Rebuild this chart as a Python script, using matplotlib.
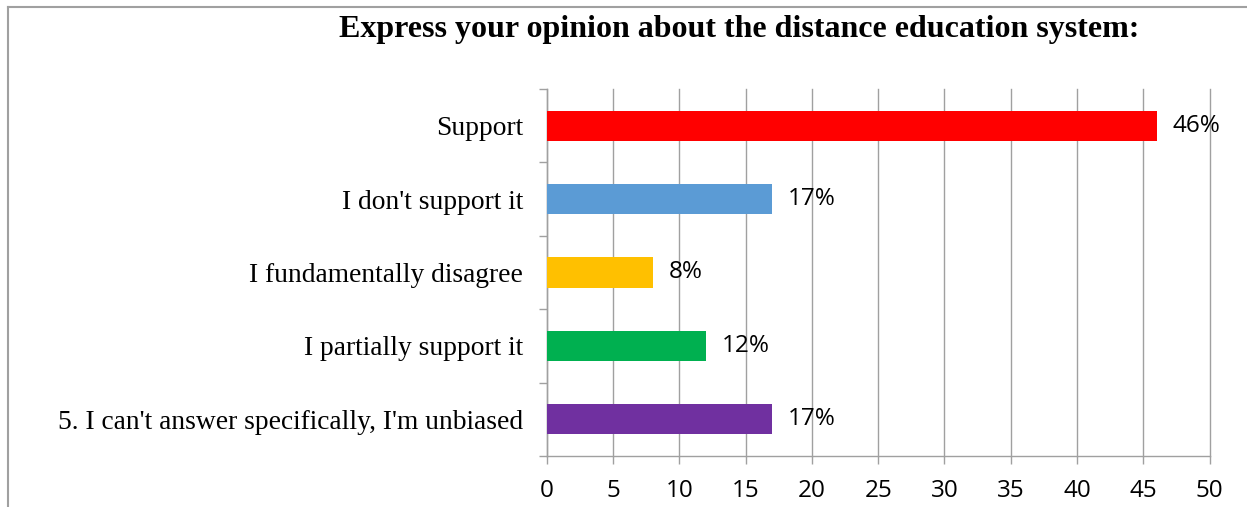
import matplotlib.pyplot as plt
import numpy as np
from matplotlib.lines import Line2D

categories = ["Support", "I don't support it", "I fundamentally disagree",
              "I partially support it", "5. I can't answer specifically, I'm unbiased"]
values = [46, 17, 8, 12, 17]
labels = ["46%", "17%", "8%", "12%", "17%"]
colors = ["#FF0000", "#5B9BD5", "#FFC000", "#00B050", "#7030A0"]
xticks = [0, 5, 10, 15, 20, 25, 30, 35, 40, 45, 50]
title = "Express your opinion about the distance education system:"

grid_col = "#A0A0A0"
serif = "Liberation Serif"
sans = "Open Sans"

fig = plt.figure(figsize=(12.47, 5.07), dpi=100)
ax = fig.add_axes([0.4383, 0.1006, 0.9701 - 0.4383, 0.8245 - 0.1006])

n = len(categories)
ypos = np.arange(n)
ax.barh(ypos, values, height=0.41, color=colors, zorder=3)
ax.set_ylim(n - 0.5, -0.5)
ax.set_xlim(0, 50)

# major ticks at category boundaries, labels on minor ticks at centres
ax.set_yticks(np.arange(n + 1) - 0.5)
ax.set_yticklabels([])
ax.set_yticks(ypos, minor=True)
ax.set_yticklabels(categories, minor=True, fontfamily=serif, fontsize=19.8)
ax.tick_params(axis="y", which="major", length=6, width=1, color=grid_col, direction="out")
ax.tick_params(axis="y", which="minor", length=0, pad=17)

ax.set_xticks(xticks)
ax.set_xticklabels([str(t) for t in xticks], fontfamily=sans, fontsize=17.5)
ax.tick_params(axis="x", length=5.8, width=1, color=grid_col, direction="out", pad=11)

ax.grid(axis="x", color=grid_col, linewidth=1, zorder=0)
for gl in ax.get_xgridlines():
    gl.set_clip_on(False)
for s in ["top", "right"]:
    ax.spines[s].set_visible(False)
for s in ["left", "bottom"]:
    ax.spines[s].set_color(grid_col)
    ax.spines[s].set_linewidth(1)

for y, v, lab in zip(ypos, values, labels):
    ax.annotate(lab, (v, y), xytext=(11.5, 0), textcoords="offset points",
                va="center", ha="left", fontfamily=sans, fontsize=17.5, zorder=4)

fig.text(739 / 1247, 1 - 30 / 507, title, ha="center", va="center",
         fontfamily=serif, fontweight="bold", fontsize=23)

# outer chart border (top and left edges visible)
fig.add_artist(Line2D([8 / 1247, 8 / 1247], [0, 1 - 7 / 507], transform=fig.transFigure,
                      color="#A0A0A0", linewidth=1.5))
fig.add_artist(Line2D([8 / 1247, 1], [1 - 7 / 507, 1 - 7 / 507], transform=fig.transFigure,
                      color="#A0A0A0", linewidth=1.5))

fig.savefig("out.png", dpi=100)
